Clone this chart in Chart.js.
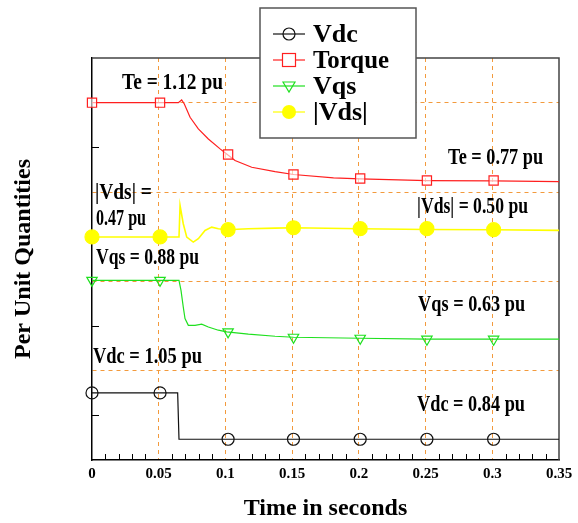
<!DOCTYPE html>
<html>
<head>
<meta charset="utf-8">
<script src="https://cdn.jsdelivr.net/npm/chart.js@4.4.1/dist/chart.umd.min.js"></script>
<style>
  html, body { margin: 0; padding: 0; background: #fff; }
  #wrap { width: 578px; height: 523px; }
</style>
</head>
<body>
<div id="wrap"><canvas id="chart" width="578" height="523"></canvas></div>
<script>
// values are in plot units (the traces are stacked with offsets, y axis has no labels)
const xTickLabels = ['0', '0.05', '0.1', '0.15', '0.2', '0.25', '0.3', '0.35'];

const vdcTime = [0, 0.0642, 0.0652, 0.35];
const vdcValues = [0.751, 0.751, 0.232, 0.232];

const torqueTime = [0, 0.0647, 0.0672, 0.0692, 0.0735, 0.0797, 0.0872, 0.096, 0.1014, 0.1072, 0.1197, 0.1372, 0.151, 0.181, 0.201, 0.251, 0.301, 0.35];
const torqueValues = [4.0, 4.0, 4.03, 3.985, 3.836, 3.706, 3.594, 3.483, 3.419, 3.352, 3.277, 3.229, 3.196, 3.158, 3.147, 3.128, 3.125, 3.117];

const vqsTime = [0, 0.0652, 0.0667, 0.0684, 0.0697, 0.0722, 0.0772, 0.0822, 0.0872, 0.0947, 0.101, 0.1172, 0.1372, 0.151, 0.201, 0.251, 0.301, 0.35];
const vqsValues = [2.011, 2.011, 1.899, 1.713, 1.583, 1.508, 1.508, 1.52, 1.489, 1.453, 1.434, 1.408, 1.385, 1.374, 1.363, 1.352, 1.352, 1.352];

const vdsTime = [0, 0.0652, 0.066, 0.0684, 0.071, 0.0759, 0.0797, 0.0847, 0.0897, 0.0947, 0.101, 0.1172, 0.1372, 0.151, 0.201, 0.251, 0.301, 0.35];
const vdsValues = [2.497, 2.497, 2.849, 2.645, 2.495, 2.439, 2.477, 2.57, 2.607, 2.589, 2.578, 2.589, 2.596, 2.6, 2.589, 2.581, 2.578, 2.57];

// marker positions
const markerTime = [0, 0.051, 0.102, 0.151, 0.201, 0.251, 0.301];
const vdcMarkers = [0.751, 0.751, 0.232, 0.232, 0.232, 0.232, 0.232];
const torqueMarkers = [4.0, 4.0, 3.419, 3.196, 3.151, 3.128, 3.128];
const vqsMarkers = [2.011, 2.011, 1.434, 1.374, 1.363, 1.352, 1.352];
const vdsMarkers = [2.497, 2.497, 2.578, 2.6, 2.589, 2.589, 2.578];

const seriesNames = ['Vdc', 'Torque', 'Vqs', '|Vds|'];

const noteLabels = [
    { text: 'Te = 1.12 pu', t: 0.0225, v: 4.223, w: 101 },
    { text: 'Te = 0.77 pu', t: 0.2669, v: 3.385, w: 95 },
    { text: '|Vds| =', t: 0.0022, v: 2.983, w: 57 },
    { text: '0.47 pu', t: 0.003, v: 2.693, w: 50 },
    { text: '|Vds| = 0.50 pu', t: 0.2436, v: 2.827, w: 111 },
    { text: 'Vqs = 0.88 pu', t: 0.003, v: 2.257, w: 103 },
    { text: 'Vqs = 0.63 pu', t: 0.2444, v: 1.732, w: 107 },
    { text: 'Vdc = 1.05 pu', t: 0.0007, v: 1.151, w: 109 },
    { text: 'Vdc = 0.84 pu', t: 0.2436, v: 0.615, w: 108 }
];

const FONT = "'Liberation Serif', 'Times New Roman', serif";
const GRID = '#f39a3c';

const styles = [
    { color: '#111111', marker: 'circle', fill: false },
    { color: '#ff1f1f', marker: 'rect', fill: false },
    { color: '#1fe01f', marker: 'triangle', fill: false },
    { color: '#ffff00', marker: 'dot', fill: true }
];

const toPoints = (xs, ys) => xs.map((t, i) => ({ x: t, y: ys[i] }));

function drawMarker(ctx, kind, x, y, color) {
    ctx.save();
    ctx.strokeStyle = color;
    ctx.fillStyle = color;
    ctx.lineWidth = 1.2;
    ctx.beginPath();
    if (kind === 'circle') {
        ctx.arc(x, y, 6, 0, Math.PI * 2);
        ctx.stroke();
    } else if (kind === 'rect') {
        ctx.fillStyle = '#fff';
        ctx.fillRect(x - 6.5, y - 6.5, 13, 13);
        ctx.strokeRect(x - 6.5, y - 6.5, 13, 13);
    } else if (kind === 'triangle') {
        ctx.moveTo(x - 6, y - 4);
        ctx.lineTo(x + 6, y - 4);
        ctx.lineTo(x, y + 6);
        ctx.closePath();
        ctx.stroke();
    } else {
        ctx.arc(x, y, 7, 0, Math.PI * 2);
        ctx.fill();
    }
    ctx.restore();
}

const decorPlugin = {
    id: 'decor',
    beforeDatasetsDraw(chart) {
        const { ctx, chartArea: a, scales: { x, y } } = chart;
        ctx.save();
        ctx.strokeStyle = '#000';
        ctx.lineWidth = 1;
        ctx.beginPath();
        for (let i = 1; i < 35; i++) {
            if (i % 5 === 0) continue;
            const px = Math.round(x.getPixelForValue(i / 100)) + 0.5;
            ctx.moveTo(px, a.bottom);
            ctx.lineTo(px, a.bottom - 6);
        }
        for (let v = 0.5; v < 4.5; v += 1) {
            const py = Math.round(y.getPixelForValue(v)) + 0.5;
            ctx.moveTo(a.left, py);
            ctx.lineTo(a.left + 7, py);
        }
        ctx.stroke();

        ctx.strokeStyle = '#444';
        ctx.lineWidth = 1.5;
        ctx.beginPath();
        ctx.moveTo(a.left, a.top);
        ctx.lineTo(a.right, a.top);
        ctx.lineTo(a.right, a.bottom);
        ctx.stroke();
        ctx.restore();
    },
    afterDraw(chart) {
        const { ctx, scales: { x, y } } = chart;
        ctx.save();

        // text notes on the traces
        ctx.font = `bold 23px ${FONT}`;
        ctx.fillStyle = '#000';
        ctx.textAlign = 'left';
        ctx.textBaseline = 'middle';
        noteLabels.forEach(n => {
            ctx.fillText(n.text, x.getPixelForValue(n.t), y.getPixelForValue(n.v), n.w);
        });

        // legend box
        const lx = 260, ly = 8, lw = 156, lh = 130;
        ctx.fillStyle = '#fff';
        ctx.fillRect(lx, ly, lw, lh);
        ctx.strokeStyle = '#555';
        ctx.lineWidth = 1.5;
        ctx.strokeRect(lx, ly, lw, lh);

        ctx.font = `bold 26px ${FONT}`;
        seriesNames.forEach((name, i) => {
            const cy = 34 + i * 26;
            const s = styles[i];
            ctx.strokeStyle = s.color;
            ctx.lineWidth = 1.2;
            ctx.beginPath();
            ctx.moveTo(273, cy);
            ctx.lineTo(305, cy);
            ctx.stroke();
            drawMarker(ctx, s.marker, 289, cy, s.color);
            ctx.fillStyle = '#000';
            ctx.fillText(name, 313, cy + 1, name === 'Torque' ? 76 : undefined);
        });
        ctx.restore();
    }
};

// datasets: a line per trace, then its markers
const lineSets = [
    [vdcTime, vdcValues],
    [torqueTime, torqueValues],
    [vqsTime, vqsValues],
    [vdsTime, vdsValues]
].map(([t, v], i) => ({
    label: seriesNames[i],
    data: toPoints(t, v),
    showLine: true,
    borderColor: styles[i].color,
    borderWidth: i === 3 ? 1.6 : 1.2,
    pointRadius: 0,
    tension: 0,
    clip: false
}));

const markerSets = [vdcMarkers, torqueMarkers, vqsMarkers, vdsMarkers].map((m, i) => {
    const s = styles[i];
    return {
        label: seriesNames[i] + ' markers',
        data: toPoints(markerTime, m),
        showLine: false,
        pointStyle: { circle: 'circle', rect: 'rect', triangle: 'triangle', dot: 'circle' }[s.marker],
        rotation: s.marker === 'triangle' ? 180 : 0,
        pointRadius: s.marker === 'rect' ? 6.5 : (s.marker === 'dot' ? 7 : 6),
        pointBorderWidth: 1.2,
        borderColor: s.color,
        backgroundColor: s.fill ? s.color : (s.marker === 'rect' ? 'rgba(255,255,255,0.6)' : 'rgba(0,0,0,0)'),
        clip: false
    };
});

Chart.defaults.font.family = FONT;
Chart.defaults.color = '#000';

new Chart(document.getElementById('chart'), {
    type: 'scatter',
    data: { datasets: [...markerSets, ...lineSets] },
    options: {
        responsive: false,
        animation: false,
        events: [],
        layout: { padding: { left: 0, top: 58, right: 19, bottom: 0 } },
        plugins: {
            legend: { display: false },
            tooltip: { enabled: false }
        },
        scales: {
            x: {
                type: 'linear',
                min: 0,
                max: 0.35,
                afterFit: s => { s.height = 63; },
                ticks: {
                    stepSize: 0.05,
                    autoSkip: false,
                    maxRotation: 0,
                    padding: 5,
                    font: { size: 15, weight: 'bold' },
                    callback: (v, i) => xTickLabels[i] ?? ''
                },
                grid: {
                    drawTicks: false,
                    color: c => (c.tick && c.tick.value > 1e-6 && c.tick.value < 0.349) ? GRID : 'rgba(0,0,0,0)'
                },
                border: { display: true, color: '#000', width: 1.5, dash: [4, 4] },
                title: {
                    display: true,
                    text: 'Time in seconds',
                    font: { size: 24, weight: 'bold' },
                    padding: { top: 0, bottom: 0 }
                }
            },
            y: {
                type: 'linear',
                min: 0,
                max: 4.5,
                afterFit: s => { s.width = 92; },
                ticks: { stepSize: 1, display: false },
                grid: {
                    drawTicks: false,
                    color: c => (c.tick && [1, 2, 3, 4].includes(c.tick.value)) ? GRID : 'rgba(0,0,0,0)'
                },
                border: { display: true, color: '#000', width: 1.5, dash: [4, 4] },
                title: {
                    display: true,
                    text: 'Per Unit Quantities',
                    font: { size: 24, weight: 'bold' },
                    padding: { top: 9, bottom: 0 }
                }
            }
        }
    },
    plugins: [decorPlugin]
});
</script>
</body>
</html>
